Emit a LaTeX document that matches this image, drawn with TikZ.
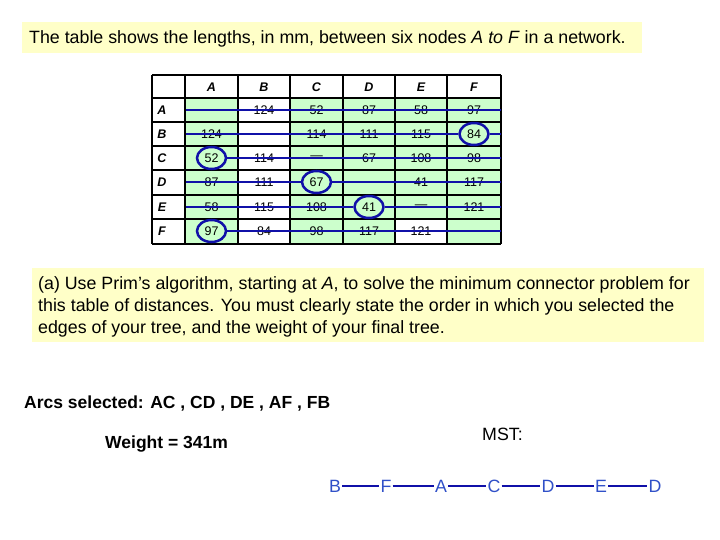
\documentclass[tikz,border=0pt]{standalone}
\usepackage{fontspec}
\setmainfont{Liberation Sans}
\usetikzlibrary{shapes.geometric}
\definecolor{ybox}{HTML}{FFFFC8}
\definecolor{cellg}{HTML}{CCFFCC}
\definecolor{lblue}{HTML}{1010A8}
\definecolor{tblue}{HTML}{3050C8}
\begin{document}
\begin{tikzpicture}[x=1pt,y=-1pt,
  txt/.style={inner sep=0pt,anchor=west,font=\fontsize{17.8}{20}\selectfont},
  cell/.style={inner sep=0pt,font=\fontsize{12.5}{14}\selectfont},
  hdr/.style={inner sep=0pt,font=\fontsize{12.5}{14}\selectfont\itshape\bfseries},
  ring/.style={draw=lblue,line width=2.5pt,ellipse,minimum width=29pt,minimum height=22pt,inner sep=0pt},
  rowline/.style={draw=lblue,line width=2.6pt},
  mst/.style={inner sep=1pt,text=tblue,font=\fontsize{17.8}{20}\selectfont},
  edge/.style={draw=lblue,line width=2.2pt}]
\useasboundingbox (0,0) rectangle (720,540);
\fill[white] (0,0) rectangle (720,540);
% title
\fill[ybox] (22,22) rectangle (642,53);
\node[txt] (title) at (29,39) {The table shows the lengths, in mm, between six nodes \textit{A to F} in a network.};
% table
\foreach \xa/\xb in {185/238,290/343,343/395,395/447,447/501}
  \fill[cellg] (\xa,98) rectangle (\xb,244);
\fill[white] (395,219) rectangle (447,244);
\foreach \xx in {152,185,238,290,343,395,447,501}
  \draw[line width=1.2pt] (\xx,75) -- (\xx,244);
\foreach \yy in {75,98,122,146,170,195,219,244}
  \draw[line width=1.2pt] (152,\yy) -- (501,\yy);
\foreach \n/\xa/\ya in {A/211.5/110,B/264/134,C/316.5/158,D/369/182,E/421/207,F/474/231}{
  \node[hdr] (h\n) at (\xa,87) {\n};
  \node[hdr] (r\n) at (162,\ya) {\n};}
\newcommand\tabrow[3]{%
  \foreach \v/\xa [count=\k] in {#2}{
    \node[cell] (c#1\k) at (\xa,#3) {\v};}}
\tabrow{A}{ /211.5,124/264,52/316.5,87/369,58/421,97/474}{110}
\tabrow{B}{124/211.5, /264,114/316.5,111/369,115/421,84/474}{134}
\tabrow{C}{52/211.5,114/264,---/316.5,67/369,108/421,98/474}{158}
\tabrow{D}{87/211.5,111/264,67/316.5, /369,41/421,117/474}{182}
\tabrow{E}{58/211.5,115/264,108/316.5,41/369,---/421,121/474}{207}
\tabrow{F}{97/211.5,84/264,98/316.5,117/369,121/421, /474}{231}
% circles
\node[ring] (k1) at (cC1) {};
\node[ring] (k2) at (cB6) {};
\node[ring] (k3) at (cD3) {};
\node[ring] (k4) at (cE4) {};
\node[ring] (k5) at (cF1) {};
% row lines
\draw[rowline] (186,110) -- (501,110);
\draw[rowline] (186,134) -- (k2.west) (k2.east) -- (501,134);
\draw[rowline] (k1.east) -- (501,158);
\draw[rowline] (186,182) -- (k3.west) (k3.east) -- (501,182);
\draw[rowline] (186,207) -- (k4.west) (k4.east) -- (501,207);
\draw[rowline] (k5.east) -- (501,231);
% part (a)
\fill[ybox] (32,268) rectangle (704,342);
\node[txt] (qa) at (38,285) {(a) Use Prim's algorithm, starting at \textit{A}, to solve the minimum connector problem for};
\node[txt] (qb) at (38,307) {this table of distances. You must clearly state the order in which you selected the};
\node[txt] (qc) at (38,329) {edges of your tree, and the weight of your final tree.};
\node[txt,font=\fontsize{17.5}{20}\selectfont\bfseries] (arcs) at (24,404) {Arcs selected: AC , CD , DE , AF , FB};
\node[txt,font=\fontsize{17.5}{20}\selectfont\bfseries] (wt) at (105,444) {Weight = 341m};
\node[txt] (mstl) at (482,434) {MST:};
\node[mst] (m1) at (335,486) {B};
\node[mst] (m2) at (386,486) {F};
\node[mst] (m3) at (441,486) {A};
\node[mst] (m4) at (494,486) {C};
\node[mst] (m5) at (548,486) {D};
\node[mst] (m6) at (601,486) {E};
\node[mst] (m7) at (655,486) {D};
\foreach \a/\b in {m1/m2,m2/m3,m3/m4,m4/m5,m5/m6,m6/m7}
  \draw[edge] (\a.east) -- (\b.west);
\end{tikzpicture}
\end{document}
